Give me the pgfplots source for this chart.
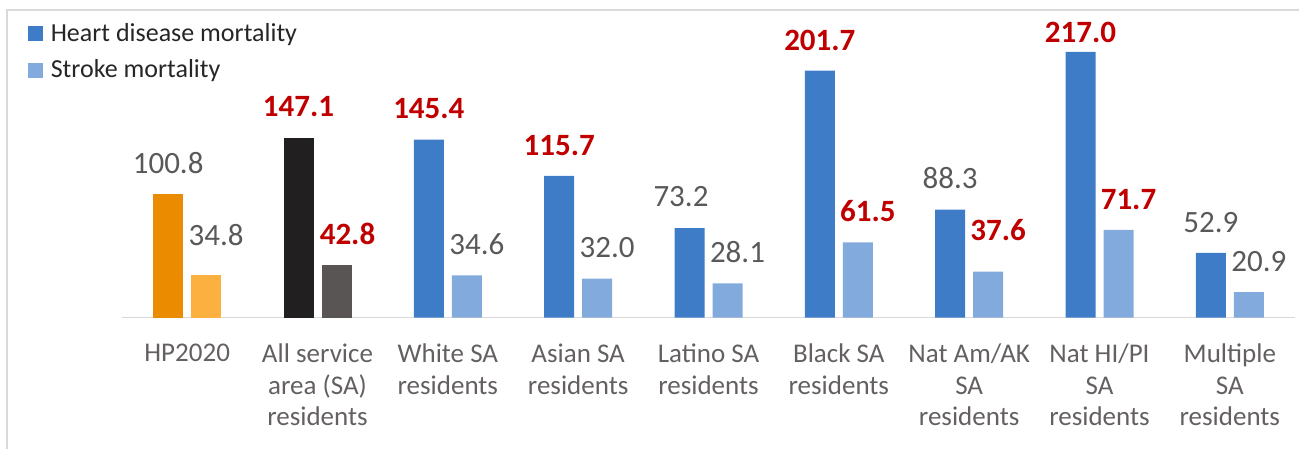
\documentclass[border=0pt]{standalone}
\usepackage{pgfplots}
\pgfplotsset{compat=1.18}
\usepackage{fontspec}
\setmainfont{Carlito}
\definecolor{hblue}{RGB}{62,124,200}
\definecolor{sblue}{RGB}{131,170,220}
\definecolor{horange}{RGB}{234,139,0}
\definecolor{sorange}{RGB}{251,176,64}
\definecolor{hblack}{RGB}{33,31,32}
\definecolor{sgray}{RGB}{89,85,84}
\definecolor{labgray}{RGB}{89,89,89}
\definecolor{labred}{RGB}{192,0,0}
\definecolor{ticktext}{RGB}{100,96,96}
\definecolor{legtext}{RGB}{38,38,38}
\definecolor{framegray}{RGB}{217,217,217}
\DeclareRobustCommand\g[1]{\textcolor{labgray}{#1}}
\DeclareRobustCommand\rd[1]{\textcolor{labred}{\bfseries #1}}
\DeclareRobustCommand\mv[3]{\raisebox{#2}[0pt][0pt]{\makebox[0pt]{\hspace*{#1}\hspace*{#1}#3}}}
\begin{document}
\begin{tikzpicture}
\begin{axis}[
  at={(0,0)}, anchor=south west,
  scale only axis, width=586.5pt, height=147pt,
  xmin=-0.5, xmax=8.5, ymin=0, ymax=240,
  ybar, bar width=15pt,
  axis x line*=bottom, axis y line=none,
  x axis line style={draw=framegray, line width=0.75pt, -},
  xtick={0,...,8},
  xticklabels={HP2020, {All service\\area (SA)\\residents}, {White SA\\residents}, {Asian SA\\residents}, {Latino SA\\residents}, {Black SA\\residents}, {Nat Am/AK\\SA\\residents}, {Nat HI/PI\\SA\\residents}, {Multiple\\SA\\residents}},
  major tick length=0pt,
  xticklabel style={font=\fontsize{13.5}{15.8}\selectfont, text=ticktext, align=center, anchor=north, inner sep=0pt, yshift=-12.9pt},
  clip=false,
  nodes near coords, point meta=explicit symbolic,
  every node near coord/.append style={anchor=south, inner sep=0pt, yshift=10pt, font=\fontsize{15.5}{18}\selectfont},
  legend image code/.code={\fill[#1] (0pt,-3.75pt) rectangle (7.5pt,3.75pt);},
  legend style={draw=none, fill=none, at={(-0.08525,1.0175)}, anchor=north west,
    font=\fontsize{13}{15}\selectfont, text=legtext, row sep=7.8pt,
    nodes={inner sep=0pt}, /tikz/every odd column/.append style={column sep=3.7pt}},
  legend cell align=left,
]
\addplot[fill=horange, draw=none, bar shift=-9.5pt, forget plot] coordinates {(0,100.8) [\g{100.8}]};
\addplot[fill=sorange, draw=none, bar shift=9.5pt, forget plot, every node near coord/.append style={xshift=5pt}] coordinates {(0,34.8) [\mv{0pt}{4pt}{\g{34.8}}]};
\addplot[fill=hblack, draw=none, bar shift=-9.5pt, forget plot] coordinates {(1,147.1) [\rd{147.1}]};
\addplot[fill=sgray, draw=none, bar shift=9.5pt, forget plot, every node near coord/.append style={xshift=5.5pt}] coordinates {(1,42.8) [\rd{42.8}]};
\addplot[fill=hblue, draw=none, bar shift=-9.5pt] coordinates {
  (2,145.4) [\rd{145.4}]
  (3,115.7) [\rd{115.7}]
  (4,73.2) [\mv{-4.25pt}{0pt}{\g{73.2}}]
  (5,201.7) [\rd{201.7}]
  (6,88.3) [\g{88.3}]
  (7,217.0) [\mv{0pt}{-6pt}{\rd{217.0}}]
  (8,52.9) [\g{52.9}]
};
\addlegendentry{Heart disease mortality}
\addplot[fill=sblue, draw=none, bar shift=9.5pt, every node near coord/.append style={xshift=5pt}] coordinates {
  (2,34.6) [\g{34.6}]
  (3,32.0) [\g{32.0}]
  (4,28.1) [\g{28.1}]
  (5,61.5) [\rd{61.5}]
  (6,37.6) [\mv{0pt}{5pt}{\rd{37.6}}]
  (7,71.7) [\rd{71.7}]
  (8,20.9) [\g{20.9}]
};
\addlegendentry{Stroke mortality}
\end{axis}
\draw[framegray, line width=0.8pt] (-57.5pt,-80pt) -- (-57.5pt,153.85pt) -- (600pt,153.85pt);
\pgfresetboundingbox
\useasboundingbox (-61pt,-65.65pt) rectangle (588.5pt,158.85pt);
\end{tikzpicture}
\end{document}
